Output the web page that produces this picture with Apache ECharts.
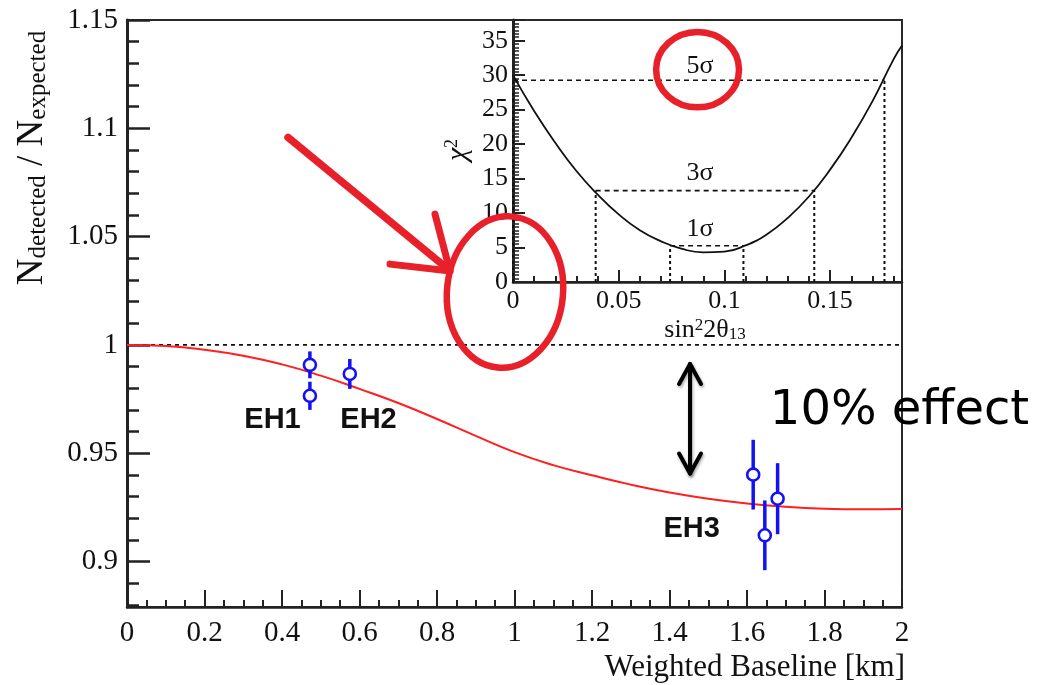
<!DOCTYPE html>
<html>
<head>
<meta charset="utf-8">
<script src="https://cdn.jsdelivr.net/npm/echarts@6/dist/echarts.min.js"></script>
<style>
  html, body { margin: 0; padding: 0; background: #fff; }
  #chart { width: 1046px; height: 685px; }
</style>
</head>
<body>
<div id="chart"></div>
<script>
// ---- Main panel: detected / expected ratio vs weighted baseline ----
const fitBaseline = [0, 0.1, 0.2, 0.3, 0.4, 0.5, 0.6, 0.7, 0.8, 0.9, 1.0, 1.1, 1.2, 1.3, 1.4, 1.5, 1.6, 1.7, 1.8, 1.9, 2.0];
const fitRatio = [1.0000, 0.9995, 0.9978, 0.9950, 0.9910, 0.9858, 0.9797, 0.9732, 0.9658, 0.9580, 0.9505,
                  0.9445, 0.9398, 0.9355, 0.9319, 0.9290, 0.9268, 0.9253, 0.9244, 0.9241, 0.9243];
const unityBaseline = [0, 2];
const unityRatio = [1, 1];

// Detector measurements (weighted baseline [km], ratio, uncertainty)
const detBaseline = [0.472, 0.472, 0.575, 1.616, 1.646, 1.679];
const detRatio = [0.9908, 0.9765, 0.9866, 0.9401, 0.9121, 0.9290];
const detError = [0.0062, 0.0065, 0.0069, 0.0161, 0.0161, 0.0164];

// Experimental hall names and where they are written
const hallNames = ['EH1', 'EH2', 'EH3'];
const hallLabelBaseline = [0.3755, 0.6232, 1.4573];
const hallLabelRatio = [0.9652, 0.9652, 0.9152];

// Tick values of the main panel
const ratioTicks = [0.9, 0.95, 1, 1.05, 1.1, 1.15];
const ratioMinorTicks = [0.88, 0.89, 0.91, 0.92, 0.93, 0.94, 0.96, 0.97, 0.98, 0.99,
                         1.01, 1.02, 1.03, 1.04, 1.06, 1.07, 1.08, 1.09, 1.11, 1.12, 1.13, 1.14];

// ---- Inset: chi-square scan vs sin^2(2 theta_13) ----
const scanS2t = [0, 0.01, 0.02, 0.03, 0.04, 0.05, 0.06, 0.07, 0.08, 0.09, 0.10,
                 0.11, 0.12, 0.13, 0.14, 0.15, 0.16, 0.17, 0.18, 0.184];
const scanChi2 = [30.0, 24.8, 20.2, 16.1, 12.7, 9.8, 7.5, 5.9, 4.8, 4.3, 4.4,
                  5.3, 6.9, 9.3, 12.4, 16.3, 20.9, 26.2, 32.3, 34.3];
const sigmaNames = ['1σ', '3σ', '5σ'];
const sigmaLevel = [5.26, 13.26, 29.26];
const sigmaLow = [0.0743, 0.0391, 0];
const sigmaHigh = [0.109, 0.1425, 0.1757];
const sigmaLabelS2t = [0.0885, 0.0885, 0.0885];
const sigmaLabelChi2 = [7.7, 15.85, 31.35];

const SERIF = '"Liberation Serif", "Times New Roman", serif';
const SANS = '"Liberation Sans", Arial, sans-serif';
const INK = '#111';
const BLUE = '#1212f2';
const RED = '#e8202a';

const chart = echarts.init(document.getElementById('chart'), null, { renderer: 'canvas' });

const zip = (a, b) => a.map((v, i) => [v, b[i]]);

const sigmaSeries = [];
sigmaLevel.forEach((lvl, i) => {
  sigmaSeries.push({
    type: 'line', xAxisIndex: 1, yAxisIndex: 2, symbol: 'none', silent: true, z: 3,
    data: [[sigmaLow[i], lvl], [sigmaHigh[i], lvl]],
    lineStyle: { color: INK, width: 1.6, type: [5, 4] }
  });
  [sigmaLow[i], sigmaHigh[i]].forEach(xv => {
    sigmaSeries.push({
      type: 'line', xAxisIndex: 1, yAxisIndex: 2, symbol: 'none', silent: true, z: 3,
      data: [[xv, 0], [xv, lvl]],
      lineStyle: { color: INK, width: 2, type: [3, 3] }
    });
  });
});

const option = {
  animation: false,
  backgroundColor: '#fff',
  grid: [
    { left: 127, right: 144, top: 20, bottom: 78, show: true, borderColor: '#2a2a2a', borderWidth: 2, backgroundColor: '#fff' },
    { left: 513, right: 144, top: 20, bottom: 403, show: true, borderColor: '#2a2a2a', borderWidth: 2, backgroundColor: '#fff' }
  ],
  xAxis: [
    {
      type: 'value', gridIndex: 0, min: 0, max: 2, interval: 0.2,
      name: 'Weighted Baseline [km]', nameLocation: 'end', nameGap: 3,
      nameTextStyle: { fontFamily: SERIF, fontSize: 31, color: INK, align: 'right', verticalAlign: 'top', padding: [45, 0, 0, 0] },
      axisLine: { lineStyle: { color: '#222', width: 2.5 } },
      axisTick: { inside: true, length: 17, lineStyle: { color: '#222', width: 2 } },
      minorTick: { show: true, splitNumber: 4, length: 7, lineStyle: { color: '#222', width: 2 } },
      axisLabel: { fontFamily: SERIF, fontSize: 29, color: INK, margin: 12 },
      splitLine: { show: false }
    },
    {
      type: 'value', gridIndex: 1, min: 0, max: 0.184, interval: 0.05,
      axisLine: { lineStyle: { color: '#222', width: 2.5 } },
      axisTick: { inside: true, length: 12, lineStyle: { color: '#222', width: 2 } },
      minorTick: { show: true, splitNumber: 5, length: 6, lineStyle: { color: '#222', width: 2 } },
      axisLabel: { fontFamily: SERIF, fontSize: 26, color: INK, margin: 6, showMaxLabel: false },
      splitLine: { show: false }
    }
  ],
  yAxis: [
    {
      type: 'value', gridIndex: 0, min: 0.879, max: 1.15,
      axisLine: { show: true, lineStyle: { color: '#222', width: 3 } },
      axisTick: { show: true, inside: true, length: 23, customValues: ratioTicks, lineStyle: { color: '#222', width: 2.5 } },
      axisLabel: { show: true, customValues: ratioTicks, fontFamily: SERIF, fontSize: 29, color: INK, margin: 9 },
      splitLine: { show: false }
    },
    {
      type: 'value', gridIndex: 0, min: 0.879, max: 1.15, position: 'left',
      axisLine: { show: false },
      axisTick: { show: true, inside: true, length: 12, customValues: ratioMinorTicks, lineStyle: { color: '#222', width: 2.5 } },
      axisLabel: { show: false },
      splitLine: { show: false }
    },
    {
      type: 'value', gridIndex: 1, min: 0, max: 38, interval: 5,
      axisLine: { show: true, lineStyle: { color: '#222', width: 3 } },
      axisTick: { show: true, inside: true, length: 12, lineStyle: { color: '#222', width: 2 } },
      minorTick: { show: true, splitNumber: 10, length: 6, lineStyle: { color: '#222', width: 1.5 } },
      axisLabel: { fontFamily: SERIF, fontSize: 26, color: INK, margin: 5, showMaxLabel: false },
      splitLine: { show: false }
    }
  ],
  series: [
    {
      name: 'unity', type: 'line', xAxisIndex: 0, yAxisIndex: 0, symbol: 'none', silent: true, z: 2,
      data: zip(unityBaseline, unityRatio),
      lineStyle: { color: INK, width: 1.8, type: [4, 4] }
    },
    {
      name: 'fit', type: 'line', xAxisIndex: 0, yAxisIndex: 0, symbol: 'none', smooth: true, silent: true, z: 3,
      data: zip(fitBaseline, fitRatio),
      lineStyle: { color: '#ff1f1f', width: 2 }
    },
    {
      name: 'halls', type: 'custom', xAxisIndex: 0, yAxisIndex: 0, z: 5,
      data: detBaseline.map((b, i) => [b, detRatio[i], detError[i]]),
      renderItem: (params, api) => {
        const x = api.value(0), y = api.value(1), e = api.value(2);
        const top = api.coord([x, y + e]);
        const bot = api.coord([x, y - e]);
        const c = api.coord([x, y]);
        return {
          type: 'group',
          children: [
            { type: 'line', shape: { x1: top[0], y1: top[1], x2: bot[0], y2: bot[1] }, style: { stroke: BLUE, lineWidth: 3.5 } },
            { type: 'circle', shape: { cx: c[0], cy: c[1], r: 6 }, style: { fill: '#fff', stroke: BLUE, lineWidth: 2.6 } }
          ]
        };
      }
    },
    {
      name: 'chi2', type: 'line', xAxisIndex: 1, yAxisIndex: 2, symbol: 'none', smooth: true, silent: true, z: 4,
      data: zip(scanS2t, scanChi2),
      lineStyle: { color: INK, width: 1.8 }
    }
  ].concat(sigmaSeries)
};

chart.setOption(option);

// ---- Annotations, placed in data coordinates of the two panels ----
const FIT_IDX = 1;   // series on the main panel
const CHI_IDX = 3;   // series on the inset
const toMain = p => chart.convertToPixel({ seriesIndex: FIT_IDX }, p);
const toInset = p => chart.convertToPixel({ seriesIndex: CHI_IDX }, p);

// red pointer towards the inset origin
const pointerShaft = [[0.4155, 1.0958], [0.8284, 1.0350]];
const pointerHeadA = [[0.7948, 1.0604], [0.8335, 1.0341]];
const pointerHeadB = [[0.6787, 1.0373], [0.8335, 1.0341]];
// red rings
const originRing = { center: [0.9755, 1.0244], radius: [0.1497, 0.035] };
const fiveSigmaRing = { center: [0.0873, 30.8], radius: [0.0196, 5.47] };
// black double arrow and its caption
const effectBaseline = 1.453;
const effectSpan = [0.9912, 0.9406];
const effectTextPos = [1.659, 0.9691];

function ring(toPx, r, rotation) {
  const c = toPx(r.center);
  const ex = toPx([r.center[0] + r.radius[0], r.center[1]]);
  const ey = toPx([r.center[0], r.center[1] + r.radius[1]]);
  return {
    type: 'ellipse', x: c[0], y: c[1], rotation: rotation, z: 50,
    shape: { cx: 0, cy: 0, rx: Math.abs(ex[0] - c[0]), ry: Math.abs(c[1] - ey[1]) },
    style: { fill: 'none', stroke: RED, lineWidth: 6.5 }
  };
}

function stroke(points, color, width) {
  return {
    type: 'polyline', z: 50,
    shape: { points: points },
    style: { fill: 'none', stroke: color, lineWidth: width, lineCap: 'round', lineJoin: 'round' }
  };
}

function label(pos, text, font, color) {
  return {
    type: 'text', x: pos[0], y: pos[1], z: 45,
    style: { text: text, font: font, fill: color, align: 'center', verticalAlign: 'middle' }
  };
}

const aTop = toMain([effectBaseline, effectSpan[0]]);
const aBot = toMain([effectBaseline, effectSpan[1]]);
const headW = 11, headH = 20;
const arrowStyle = {
  fill: 'none', stroke: '#000', lineWidth: 4, lineCap: 'round', lineJoin: 'round',
  shadowBlur: 3, shadowColor: 'rgba(0,0,0,0.35)', shadowOffsetX: 1, shadowOffsetY: 2
};
const effectPx = toMain(effectTextPos);

const hallLabels = hallNames.map((n, i) =>
  label(toMain([hallLabelBaseline[i], hallLabelRatio[i]]), n, 'bold 29px ' + SANS, '#111'));
const sigmaLabels = sigmaNames.map((n, i) =>
  label(toInset([sigmaLabelS2t[i], sigmaLabelChi2[i]]), n, '26px ' + SERIF, INK));

chart.setOption({
  graphic: [
    stroke(pointerShaft.map(toMain), RED, 7.5),
    stroke(pointerHeadA.map(toMain), RED, 7),
    stroke(pointerHeadB.map(toMain), RED, 7),
    ring(toMain, originRing, -0.1),
    ring(toInset, fiveSigmaRing, 0),
    { type: 'polyline', z: 50, shape: { points: [aTop, aBot] }, style: arrowStyle },
    { type: 'polyline', z: 50, shape: { points: [[aTop[0] - headW, aTop[1] + headH], aTop, [aTop[0] + headW, aTop[1] + headH]] }, style: arrowStyle },
    { type: 'polyline', z: 50, shape: { points: [[aBot[0] - headW, aBot[1] - headH], aBot, [aBot[0] + headW, aBot[1] - headH]] }, style: arrowStyle },
    {
      type: 'text', x: effectPx[0], y: effectPx[1], z: 50,
      style: { text: '10% effect', font: '48px "DejaVu Sans", sans-serif', fill: '#000', align: 'left', verticalAlign: 'middle' }
    },
    // axis titles
    {
      type: 'text', x: 32, y: 158, rotation: Math.PI / 2, z: 40,
      style: {
        text: '{n|N}{s|detected}{n| / N}{s|expected}',
        align: 'center', verticalAlign: 'middle', fill: INK,
        rich: {
          n: { fontFamily: SERIF, fontSize: 37, color: INK },
          s: { fontFamily: SERIF, fontSize: 25, color: INK, lineHeight: 8, verticalAlign: 'bottom' }
        }
      }
    },
    {
      type: 'text', x: 458, y: 150, rotation: Math.PI / 2, z: 40,
      style: {
        text: '{c|χ}{p|2}',
        align: 'center', verticalAlign: 'middle', fill: INK,
        rich: {
          c: { fontFamily: SERIF, fontSize: 30, fontStyle: 'italic', color: INK },
          p: { fontFamily: SERIF, fontSize: 18, color: INK, lineHeight: 12, verticalAlign: 'top' }
        }
      }
    },
    {
      type: 'text', x: 705, y: 330, z: 40,
      style: {
        text: '{a|sin}{p|2}{a|2θ}{b|13}',
        align: 'center', verticalAlign: 'middle', fill: INK,
        rich: {
          a: { fontFamily: SERIF, fontSize: 26, color: INK },
          p: { fontFamily: SERIF, fontSize: 17, color: INK, lineHeight: 10, verticalAlign: 'top' },
          b: { fontFamily: SERIF, fontSize: 17, color: INK, lineHeight: 6, verticalAlign: 'bottom' }
        }
      }
    }
  ].concat(hallLabels, sigmaLabels)
});
</script>
</body>
</html>
